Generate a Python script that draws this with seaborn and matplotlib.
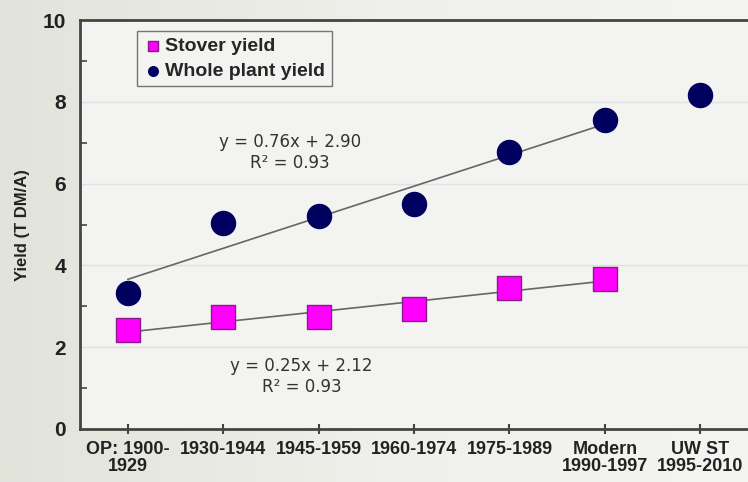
import numpy as np
import pandas as pd
import matplotlib
matplotlib.use('Agg')
import matplotlib.pyplot as plt
import seaborn as sns

# Data
periods = ['OP: 1900-\n1929', '1930-1944', '1945-1959', '1960-1974',
           '1975-1989', 'Modern\n1990-1997', 'UW ST\n1995-2010']
whole_plant = [3.32, 5.05, 5.22, 5.51, 6.78, 7.56, 8.17]
stover = [2.41, 2.73, 2.73, 2.93, 3.44, 3.68, None]

# trendline coefficients as printed (x = 1..6)
whole_fit = (0.76, 2.90)
stover_fit = (0.25, 2.12)
fit_x = [1, 6]

sns.set_style('white')
plt.rcParams['font.family'] = ['Liberation Sans', 'DejaVu Sans']

fig = plt.figure(figsize=(7.48, 4.82), dpi=100)

# soft background gradient
bg = fig.add_axes([0, 0, 1, 1], zorder=-10)
grad = np.linspace(0, 1, 256).reshape(1, -1)
bg.imshow(grad, aspect='auto', cmap=matplotlib.colors.LinearSegmentedColormap.from_list(
    'bg', ['#e2e3da', '#efefeb', '#f4f4f2']), extent=[0, 1, 0, 1])
bg.axis('off')

ax = fig.add_axes([0.107, 0.11, 0.893, 0.848])
ax.set_facecolor('#f3f3f1')

df = pd.DataFrame({'x': range(len(periods)), 'whole': whole_plant, 'stover': stover})

# trendlines
for m, b in [whole_fit, stover_fit]:
    xs = np.array(fit_x) - 1
    ys = m * np.array(fit_x) + b
    sns.lineplot(x=xs, y=ys, ax=ax, color='#666666', lw=1.2, zorder=2)

sns.scatterplot(data=df, x='x', y='stover', ax=ax, marker='s', s=300,
                color='#ff00ff', edgecolor='#8a1a8a', linewidth=1, zorder=3,
                label='Stover yield')
sns.scatterplot(data=df, x='x', y='whole', ax=ax, marker='o', s=300,
                color='#00005e', edgecolor='#00005e', linewidth=1, zorder=3,
                label='Whole plant yield')

ax.set_xlim(-0.5, 6.5)
ax.set_ylim(0, 10)
ax.set_xticks(range(len(periods)))
ax.set_xticklabels(periods, fontsize=13, fontweight='bold', color='#222222',
                   linespacing=1.0)
ax.set_yticks([0, 2, 4, 6, 8, 10])
ax.set_yticks([1, 3, 5, 7, 9], minor=True)
ax.tick_params(axis='y', labelsize=15, length=8, width=1.5, direction='inout',
               color='#444444', labelcolor='#222222', pad=6)
ax.tick_params(axis='y', which='minor', length=5, width=1.2, direction='in',
               color='#444444', left=True)
ax.tick_params(axis='x', length=7, width=1.5, direction='inout', color='#444444',
               bottom=True, pad=5)
for lab in ax.get_yticklabels():
    lab.set_fontweight('bold')
ax.set_xlabel('')
ax.set_ylabel('Yield (T DM/A)', fontsize=12, fontweight='bold', color='#222222', labelpad=9)

for y in [2, 4, 6, 8]:
    ax.axhline(y, color='#e0e0e0', lw=1, zorder=0)

for side in ['left', 'bottom', 'top']:
    ax.spines[side].set_color('#444444')
    ax.spines[side].set_linewidth(2)
ax.spines['right'].set_visible(False)

ax.text(1.70, 6.76, 'y = 0.76x + 2.90\nR² = 0.93', ha='center', va='center',
        fontsize=12, color='#333333', family=['DejaVu Sans'], linespacing=1.25)
ax.text(1.82, 1.29, 'y = 0.25x + 2.12\nR² = 0.93', ha='center', va='center',
        fontsize=12, color='#333333', family=['DejaVu Sans'], linespacing=1.25)

leg = ax.legend(loc='upper left', bbox_to_anchor=(0.07, 0.998), frameon=True, fancybox=False,
                prop={'weight': 'bold', 'size': 14}, handletextpad=0.1, borderpad=0.35,
                labelspacing=0.35, markerscale=0.4, handlelength=1.0)
leg.get_frame().set_edgecolor('#555555')
leg.get_frame().set_facecolor('#f3f3f1')
leg.get_frame().set_linewidth(1)

fig.savefig('out.png', dpi=100)
